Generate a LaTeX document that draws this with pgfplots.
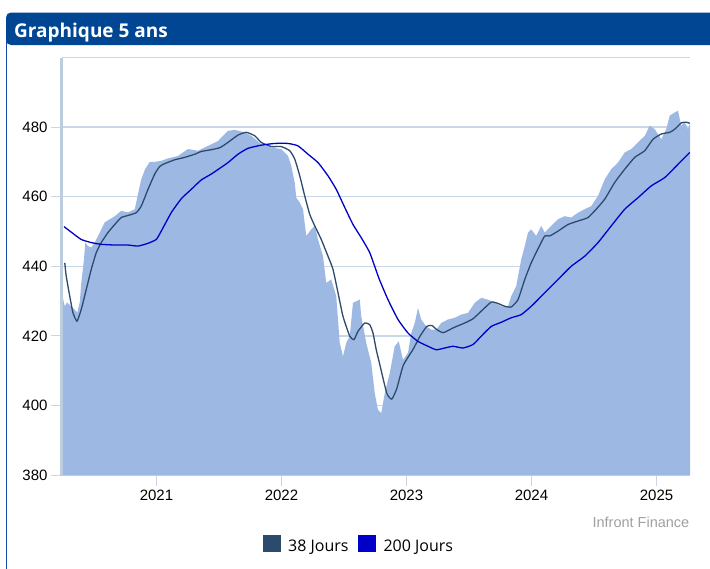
\documentclass[border=0pt]{standalone}
\usepackage{pgfplots}
\pgfplotsset{compat=1.18}
\usepackage{fontspec}
\setmainfont{Liberation Sans}
\newfontfamily\osans{Open Sans}
\definecolor{headcol}{RGB}{0,70,146}
\definecolor{framecol}{RGB}{20,75,170}
\definecolor{areacol}{RGB}{157,185,227}
\definecolor{gridcol}{RGB}{200,214,230}
\definecolor{axcol}{RGB}{188,205,224}
\definecolor{mavg}{RGB}{44,74,108}
\definecolor{mlong}{RGB}{0,0,200}
\definecolor{srccol}{RGB}{160,160,160}

\pgfplotstableread{
x y
2020.244 432
2020.266 428.5
2020.284 429.6
2020.318 428.5
2020.346 427.5
2020.366 426.7
2020.386 429.6
2020.398 435
2020.420 442
2020.430 446.8
2020.452 445.8
2020.478 445.4
2020.506 446.8
2020.546 449.7
2020.586 452.6
2020.626 453.5
2020.666 454.4
2020.718 455.9
2020.772 455.5
2020.826 456.4
2020.852 460.7
2020.878 465
2020.910 468
2020.946 470
2020.986 470
2021.038 470.3
2021.092 471
2021.172 471.7
2021.252 473.7
2021.332 473.2
2021.412 474.6
2021.492 476
2021.572 478.9
2021.626 479.2
2021.706 478.5
2021.758 477.5
2021.838 475.1
2021.918 474.1
2021.998 473.7
2022.052 471.7
2022.078 468.9
2022.106 464
2022.118 459.7
2022.146 458.3
2022.172 456.4
2022.198 448.7
2022.238 450.6
2022.266 451.6
2022.292 447.7
2022.332 442.9
2022.358 435.2
2022.398 436.2
2022.438 431.4
2022.466 418
2022.492 414.1
2022.518 418
2022.546 419.9
2022.572 429.5
2022.626 430.4
2022.638 425.6
2022.678 418
2022.718 412.2
2022.746 403.5
2022.772 398.7
2022.798 397.8
2022.826 403.5
2022.866 409.3
2022.906 417
2022.938 418.4
2022.972 413.1
2023.012 415.1
2023.038 420.8
2023.066 423.7
2023.092 428
2023.118 424.7
2023.158 422.7
2023.198 421.8
2023.238 421.8
2023.278 423.7
2023.332 424.7
2023.386 425.2
2023.438 426.1
2023.492 426.6
2023.546 429.5
2023.598 430.9
2023.652 430.4
2023.706 429.5
2023.758 428.5
2023.812 428.5
2023.838 431.4
2023.878 434.3
2023.918 442
2023.946 445.8
2023.972 449.7
2023.998 450.6
2024.038 448.7
2024.078 451.6
2024.106 449.7
2024.158 451.6
2024.212 453.5
2024.266 454.4
2024.318 454
2024.372 455.4
2024.426 456.4
2024.478 457.3
2024.532 460.2
2024.586 465
2024.638 467.9
2024.692 469.8
2024.746 472.7
2024.798 473.7
2024.852 475.6
2024.906 477.5
2024.946 480.4
2024.986 479.4
2025.038 476.5
2025.078 479.4
2025.106 483.3
2025.146 484.2
2025.172 484.7
2025.198 480.4
2025.226 481.4
2025.252 479.4
2025.268 481
}\price

\pgfplotstableread{
x y
2020.266 441
2020.278 437.1
2020.306 431.4
2020.332 426.6
2020.364 424.2
2020.398 427.6
2020.438 433.3
2020.478 439.1
2020.518 443.9
2020.558 446.8
2020.612 449.7
2020.666 452
2020.718 454
2020.772 454.6
2020.838 455.4
2020.878 457.3
2020.932 462.1
2020.986 466.5
2021.026 468.7
2021.066 469.5
2021.146 470.6
2021.226 471.3
2021.306 472.2
2021.358 473
2021.438 473.5
2021.508 474.1
2021.572 475.6
2021.652 477.7
2021.718 478.5
2021.786 477.5
2021.838 475.6
2021.918 474.4
2021.998 474.4
2022.066 473.2
2022.106 470.8
2022.146 466
2022.186 460.2
2022.226 454.9
2022.266 451.6
2022.318 447.7
2022.372 442.9
2022.412 439.1
2022.452 432.4
2022.492 425.6
2022.546 419.9
2022.580 418.9
2022.612 421.3
2022.666 423.7
2022.706 423.2
2022.732 420.8
2022.758 416
2022.788 411.5
2022.842 403.5
2022.882 401.8
2022.922 404.8
2022.974 411.5
2023.054 416.2
2023.108 419.9
2023.162 422.7
2023.202 423
2023.242 421.8
2023.294 420.9
2023.374 422.3
2023.466 423.7
2023.532 424.9
2023.598 427.1
2023.678 429.7
2023.732 429.3
2023.786 428.5
2023.838 428.3
2023.892 430.4
2023.946 436.2
2023.998 441
2024.052 445
2024.106 448.7
2024.146 448.7
2024.212 450.1
2024.292 452
2024.372 453
2024.452 454
2024.518 456.4
2024.586 459.3
2024.666 464.1
2024.746 467.9
2024.826 471.3
2024.906 473.2
2024.972 476.5
2025.038 478
2025.106 478.5
2025.146 479.4
2025.198 481.2
2025.238 481.4
2025.266 481.1
}\maA

\pgfplotstableread{
x y
2020.260 451.4
2020.318 449.8
2020.398 447.7
2020.478 446.8
2020.558 446.3
2020.666 446.1
2020.772 446.1
2020.852 445.8
2020.932 446.6
2020.998 447.7
2021.038 450.1
2021.118 455.4
2021.198 459.4
2021.278 462.1
2021.358 464.8
2021.438 466.5
2021.508 468.2
2021.572 469.8
2021.652 472.2
2021.732 473.9
2021.838 474.8
2021.946 475.3
2022.052 475.3
2022.132 474.6
2022.212 472.2
2022.292 469.8
2022.372 466
2022.438 462.1
2022.506 456.9
2022.572 452
2022.638 448.2
2022.706 443.9
2022.780 436.5
2022.852 430.4
2022.932 424.7
2023.012 420.8
2023.092 418.4
2023.172 417
2023.238 416
2023.306 416.5
2023.372 417
2023.452 416.5
2023.532 417.5
2023.598 419.9
2023.678 422.7
2023.758 423.9
2023.838 425.2
2023.918 426.1
2023.998 428.5
2024.068 431
2024.212 436.2
2024.318 440
2024.426 442.9
2024.532 446.8
2024.638 451.6
2024.746 456.4
2024.852 459.7
2024.958 463.1
2025.066 465.5
2025.172 469.3
2025.266 472.7
}\maB

\begin{document}
\begin{tikzpicture}
\useasboundingbox (0pt,0pt) rectangle (710pt,-568pt);
\fill[white] (0pt,0pt) rectangle (710pt,-568pt);
\fill[headcol, rounded corners=5pt] (6pt,-12.5pt) rectangle (716pt,-45pt);
\draw[framecol, line width=1.5pt] (6.5pt,-40pt) -- (6.5pt,-570pt);
\node[anchor=base west, text=white, inner sep=0pt, font=\osans\bfseries\fontsize{19}{19}\selectfont] at (14pt,-37.3pt) {Graphique 5 ans};

\begin{axis}[
  at={(62pt,-475pt)}, anchor=south west,
  scale only axis, width=628pt, height=417.5pt,
  xmin=2020.244, xmax=2025.268, ymin=380, ymax=500,
  axis line style={draw=none},
  ymajorgrids, grid style={gridcol, line width=1.4pt},
  ytick={380,400,...,480},
  xtick={2021,2022,2023,2024,2025},
  xticklabels={2021,2022,2023,2024,2025},
  tick align=outside, tick pos=left,
  major tick length=11pt,
  tick style={gridcol, line width=1pt},
  ticklabel style={font=\fontsize{15}{15}\selectfont, text=black},
  /pgf/number format/assume math mode=true,
  /pgf/number format/set thousands separator={},
]
\addplot[fill=areacol, draw=none] table[x=x,y=y] {\price} \closedcycle;
\addplot[mavg, line width=1.3pt, line join=round, smooth, tension=0.3] table[x=x,y=y] {\maA};
\addplot[mlong, line width=1.3pt, line join=round, smooth, tension=0.3] table[x=x,y=y] {\maB};
\end{axis}

\draw[gridcol, line width=1.4pt] (62pt,-57.5pt) -- (690pt,-57.5pt);
\draw[axcol, line width=3.5pt] (61.5pt,-57.5pt) -- (61.5pt,-475pt);
\draw[axcol, line width=1.5pt] (60pt,-475.5pt) -- (690pt,-475.5pt);

\node[anchor=base east, inner sep=0pt, text=srccol, font=\fontsize{14.5}{14.5}\selectfont] at (689.5pt,-527pt) {Infront Finance};

\fill[mavg] (263pt,-535pt) rectangle (281pt,-552pt);
\node[anchor=base west, inner sep=0pt, font=\osans\fontsize{16}{16}\selectfont] at (288pt,-551.7pt) {38 Jours};
\fill[mlong] (358pt,-535pt) rectangle (376pt,-552pt);
\node[anchor=base west, inner sep=0pt, font=\osans\fontsize{16}{16}\selectfont] at (383.3pt,-551.7pt) {200 Jours};
\end{tikzpicture}
\end{document}
